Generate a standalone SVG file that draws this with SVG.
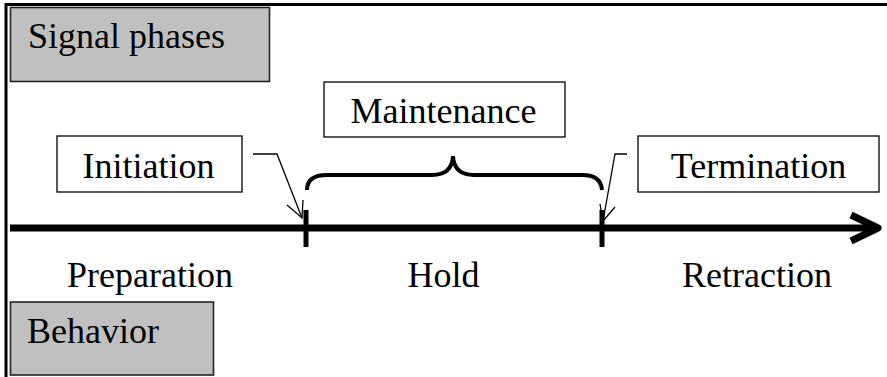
<svg xmlns="http://www.w3.org/2000/svg" width="887" height="377" viewBox="0 0 887 377">
<style>
text{font-family:'Liberation Serif','DejaVu Serif',serif;font-size:36px;fill:#000}
.box{fill:#fff;stroke:#000;stroke-width:1.3}
.gbox{fill:#c0c0c0;stroke:#222;stroke-width:1.6}
.thin{fill:none;stroke:#000;stroke-width:1.3}
.thick{fill:none;stroke:#000;stroke-linecap:butt}
</style>
<g id="frame">
<line x1="5" y1="4.5" x2="887" y2="4.5" stroke="#000" stroke-width="3"/>
<line x1="6" y1="3" x2="6" y2="377" stroke="#000" stroke-width="3"/>
</g>
<g id="signal-phases">
<rect class="gbox" x="10.5" y="7.5" width="259" height="74"/>
<text x="28" y="48" font-family="Liberation Serif, serif">Signal phases</text>
</g>
<g id="behavior">
<rect class="gbox" x="10.5" y="302" width="203" height="73"/>
<text x="27" y="343" font-family="Liberation Serif, serif">Behavior</text>
</g>
<g id="initiation">
<rect class="box" x="57" y="136" width="185" height="56"/>
<text x="148.5" y="178" text-anchor="middle" font-family="Liberation Serif, serif">Initiation</text>
</g>
<g id="maintenance">
<rect class="box" x="324" y="82" width="241" height="55"/>
<text x="443.5" y="123" text-anchor="middle" font-family="Liberation Serif, serif">Maintenance</text>
</g>
<g id="termination">
<rect class="box" x="638" y="136" width="241" height="56"/>
<text x="758.5" y="178" text-anchor="middle" font-family="Liberation Serif, serif">Termination</text>
</g>
<g id="preparation"><text x="150" y="287" text-anchor="middle" font-family="Liberation Serif, serif">Preparation</text></g>
<g id="hold"><text x="443.5" y="287" text-anchor="middle" font-family="Liberation Serif, serif">Hold</text></g>
<g id="retraction"><text x="757" y="287" text-anchor="middle" font-family="Liberation Serif, serif">Retraction</text></g>
<g id="connectors">
<line class="thick" x1="10" y1="228" x2="876" y2="228" stroke-width="7"/>
<polyline class="thick" points="851,215 878,228 851,241" stroke-width="7" stroke-linecap="round" stroke-linejoin="round"/>
<line class="thick" x1="306" y1="210" x2="306" y2="247" stroke-width="5"/>
<line class="thick" x1="602" y1="210" x2="602" y2="247" stroke-width="5"/>
<path class="thick" stroke-width="4" d="M307,190 Q307,175 327,175 L432,175 Q452,175 453,156 Q454,175 474,175 L582,175 Q601,175 602,190"/>
<polyline class="thin" points="253,154 277,154 302,218"/>
<polyline class="thin" points="287,205 302,218 303,200"/>
<polyline class="thin" points="627,154 615,154 603,221"/>
<polyline class="thin" points="615,207 603,221 600,204"/>
</g>
</svg>
